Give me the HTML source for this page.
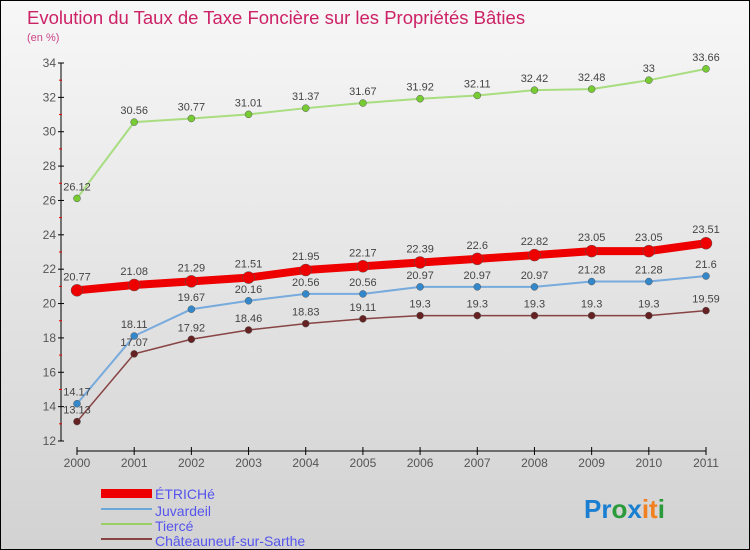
<!DOCTYPE html>
<html><head><meta charset="utf-8"><style>
body{margin:0}
#c{width:750px;height:550px;position:relative;box-sizing:border-box;border:1px solid #000;background:linear-gradient(#f7f7f7,#d2d2d2);overflow:hidden;font-family:"Liberation Sans",sans-serif}
</style></head><body>
<div id="c">
<svg id="s" width="750" height="550" style="position:absolute;left:0;top:0">
<text x="26" y="23" font-size="18.5" fill="#cc2266" font-weight="300">Evolution du Taux de Taxe Foncière sur les Propriétés Bâties</text>
<text x="26" y="40" font-size="11" fill="#cc4488">(en %)</text>
<g id="axes"></g><g id="series"></g>
<g>
<rect x="100" y="488" width="51" height="9" fill="#e00"/>
<text x="154" y="498" font-size="14" fill="#5555ee">ÉTRICHé</text>
<line x1="100" y1="508" x2="151" y2="508" stroke="#6aa8d8" stroke-width="2"/>
<text x="154" y="515" font-size="14" fill="#5555ee">Juvardeil</text>
<line x1="100" y1="523" x2="151" y2="523" stroke="#99d066" stroke-width="2"/>
<text x="154" y="530" font-size="14" fill="#5555ee">Tiercé</text>
<line x1="100" y1="538" x2="151" y2="538" stroke="#884444" stroke-width="2"/>
<text x="154" y="545" font-size="14" fill="#5555ee">Châteauneuf-sur-Sarthe</text>
</g>
<text x="583" y="517" font-size="26" font-weight="bold"><tspan fill="#1a7fd0">Pr</tspan><tspan fill="#2a9a3a">o</tspan><tspan fill="#1a7fd0">x</tspan><tspan fill="#f08020">it</tspan><tspan fill="#2a9a3a">i</tspan></text>
</svg>
</div>
<script>
const years=["2000","2001","2002","2003","2004","2005","2006","2007","2008","2009","2010","2011"];
const yTicks=[12,14,16,18,20,22,24,26,28,30,32,34];
const etriche=[20.77,21.08,21.29,21.51,21.95,22.17,22.39,22.6,22.82,23.05,23.05,23.51];
const juvardeil=[14.17,18.11,19.67,20.16,20.56,20.56,20.97,20.97,20.97,21.28,21.28,21.6];
const tierce=[26.12,30.56,30.77,31.01,31.37,31.67,31.92,32.11,32.42,32.48,33,33.66];
const chateauneuf=[13.13,17.07,17.92,18.46,18.83,19.11,19.3,19.3,19.3,19.3,19.3,19.59];
const NS="http://www.w3.org/2000/svg";
function xs(i){return 76+i*(705-76)/(years.length-1);}
function ys(v){return 440-(v-12)*(440-62)/22;}
function mk(t,a,p){const e=document.createElementNS(NS,t);for(const k in a)e.setAttribute(k,a[k]);if(t==='text')e.textContent=a._t;e.removeAttribute('_t');p.appendChild(e);return e;}
const ax=document.getElementById('axes');
let e=mk('line',{x1:60,y1:62,x2:60,y2:440,stroke:'#000'},ax);


e=mk('line',{x1:76,y1:450,x2:705,y2:450,stroke:'#000'},ax);


yTicks.forEach((v,i)=>{
 mk('line',{x1:57,y1:ys(v),x2:63,y2:ys(v),stroke:'#000'},ax);
 if(i<yTicks.length-1)mk('line',{x1:58,y1:ys(v+1),x2:61,y2:ys(v+1),stroke:'#e00'},ax);
 const t=mk('text',{x:55,y:ys(v)+4,'font-size':12,fill:'#555','text-anchor':'end',_t:v},ax);
 
 
});
years.forEach((y,i)=>{
 mk('line',{x1:xs(i),y1:446,x2:xs(i),y2:454,stroke:'#000'},ax);
 const t=mk('text',{x:xs(i),y:466,'font-size':12,fill:'#555','text-anchor':'middle',_t:y},ax);
 
 
});
const sg=document.getElementById('series');
function draw(arr,col,w,r,dot,name,lblOff){
 const pts=arr.map((v,i)=>xs(i)+','+ys(v)).join(' ');
 const pl=mk('polyline',{points:pts,fill:'none',stroke:col,'stroke-width':w,'stroke-linejoin':'round'},sg);
 
 
 arr.forEach((v,i)=>{
  const c=mk('circle',{cx:xs(i),cy:ys(v),r:r,fill:dot,stroke:'#555','stroke-width':0.5},sg);
  
  
  const t=mk('text',{x:xs(i),y:ys(v)+lblOff,'font-size':11,fill:'#444','text-anchor':'middle',_t:v},sg);
  
  
 });
}
draw(tierce,'#a8dd80',2,3.5,'#77cc33','tierce',-8);
draw(juvardeil,'#77aadd',2,3.5,'#3388cc','juvardeil',-8);
draw(chateauneuf,'#884444',1.5,3.5,'#662222','chateauneuf',-8);
draw(etriche,'#ee0000',8,6,'#ee0000','etriche',-10);
</script>
</body></html>
